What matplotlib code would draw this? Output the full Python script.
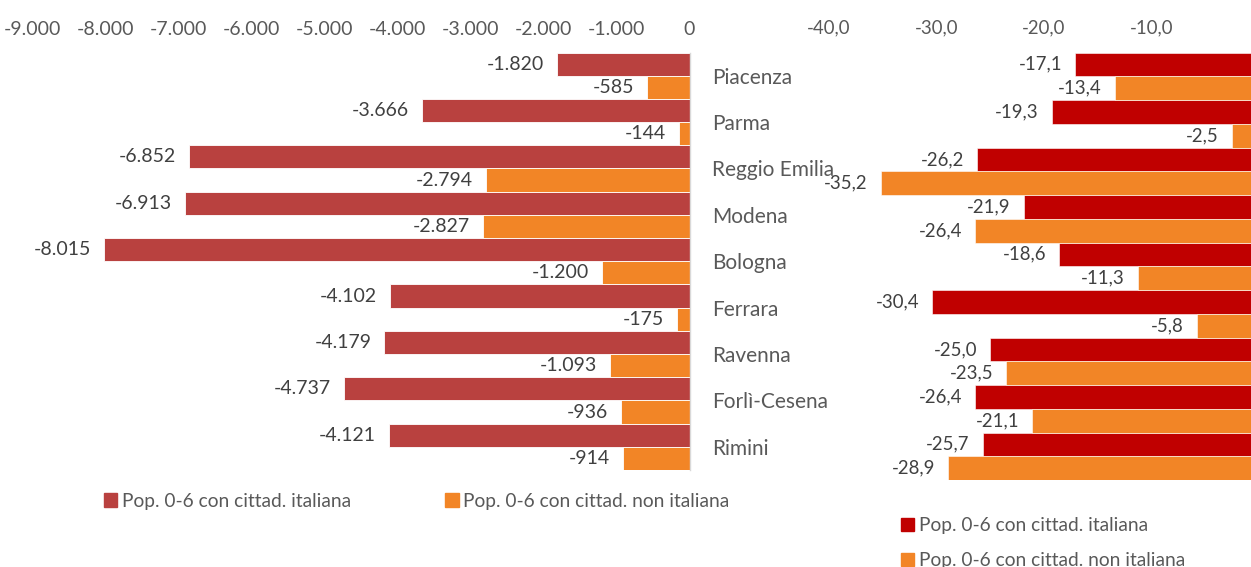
import matplotlib
matplotlib.use("Agg")
import matplotlib.pyplot as plt
from matplotlib import font_manager
from matplotlib.patches import Patch
from matplotlib.ticker import FixedLocator, FuncFormatter

# ---------------- data ----------------
provinces = ["Piacenza", "Parma", "Reggio Emilia", "Modena", "Bologna",
             "Ferrara", "Ravenna", "Forlì-Cesena", "Rimini"]
abs_italiana = [-1820, -3666, -6852, -6913, -8015, -4102, -4179, -4737, -4121]
abs_non_italiana = [-585, -144, -2794, -2827, -1200, -175, -1093, -936, -914]
pct_italiana = [-17.1, -19.3, -26.2, -21.9, -18.6, -30.4, -25.0, -26.4, -25.7]
pct_non_italiana = [-13.4, -2.5, -35.2, -26.4, -11.3, -5.8, -23.5, -21.1, -28.9]
left_ticks = [-9000, -8000, -7000, -6000, -5000, -4000, -3000, -2000, -1000, 0]
right_ticks = [-40, -30, -20, -10]
label_ita = "Pop. 0-6 con cittad. italiana"
label_non = "Pop. 0-6 con cittad. non italiana"

# ---------------- style ----------------
names = {f.name for f in font_manager.fontManager.ttflist}
FONT = "Lato" if "Lato" in names else "DejaVu Sans"
plt.rcParams["font.family"] = [FONT, "DejaVu Sans"]

RED_L = "#B9413F"
RED_R = "#C00000"
ORANGE = "#F28526"
GREY = "#595959"
DARK = "#404040"

FS_L = 14       # left panel numbers
FS_R = 13.4     # right panel numbers
FS_CAT = 15     # category labels
FS_LEG = 13.8   # legends

W, H = 1251, 567
fig = plt.figure(figsize=(W / 100, H / 100), dpi=100)


def it_int(v, pos=None):
    s = f"{abs(int(round(v))):,}".replace(",", ".")
    return ("-" if v < 0 else "") + s


def it_dec(v, pos=None):
    return f"{v:.1f}".replace(".", ",")


def px_axes(x0, x1, ytop, ybot):
    return fig.add_axes([x0 / W, (H - ybot) / H, (x1 - x0) / W, (ybot - ytop) / H])


n = len(provinces)
ypos = list(range(n))

# ---------------- left panel ----------------
axL = px_axes(32.5, 689.5, 52.5, 470)
axL.barh([y - 0.25 for y in ypos], abs_italiana, height=0.5, color=RED_L,
         edgecolor="white", linewidth=0.6)
axL.barh([y + 0.25 for y in ypos], abs_non_italiana, height=0.5, color=ORANGE,
         edgecolor="white", linewidth=0.6)
axL.set_xlim(-9000, 0)
axL.set_ylim(n - 0.5, -0.5)
axL.xaxis.tick_top()
axL.xaxis.set_major_locator(FixedLocator(left_ticks))
axL.xaxis.set_major_formatter(FuncFormatter(it_int))
axL.tick_params(axis="x", length=0, pad=10.5, labelsize=FS_L, labelcolor=GREY)
axL.yaxis.tick_right()
axL.set_yticks(ypos)
axL.set_yticklabels(provinces)
axL.tick_params(axis="y", length=0, pad=16, labelsize=FS_CAT, labelcolor=GREY)
for lab in axL.get_yticklabels():
    lab.set_zorder(5)
for s in ["top", "left", "bottom"]:
    axL.spines[s].set_visible(False)
axL.spines["right"].set_color("#D9D9D9")
axL.spines["right"].set_linewidth(1.0)

for y, v in zip(ypos, abs_italiana):
    axL.annotate(it_int(v), (v, y - 0.25), xytext=(-13, 0), textcoords="offset pixels",
                 ha="right", va="center", fontsize=FS_L, color=DARK)
for y, v in zip(ypos, abs_non_italiana):
    axL.annotate(it_int(v), (v, y + 0.25), xytext=(-13, 0), textcoords="offset pixels",
                 ha="right", va="center", fontsize=FS_L, color=DARK)

legL = axL.legend(handles=[Patch(color=RED_L, label=label_ita),
                           Patch(color=ORANGE, label=label_non)],
                  ncol=2, frameon=False, loc="center left",
                  bbox_to_anchor=((104 - 32.5) / 657, -(501 - 470) / 417.5),
                  fontsize=FS_LEG, handlelength=0.7, handleheight=0.7,
                  handletextpad=0.25, columnspacing=4.9, borderaxespad=0, borderpad=0)
for t in legL.get_texts():
    t.set_color(GREY)

# ---------------- right panel ----------------
axR = px_axes(829, 1259, 52.5, 480)
axR.patch.set_alpha(0)
axR.barh([y - 0.25 for y in ypos], pct_italiana, height=0.5, color=RED_R,
         edgecolor="white", linewidth=0.4)
axR.barh([y + 0.25 for y in ypos], pct_non_italiana, height=0.5, color=ORANGE,
         edgecolor="white", linewidth=0.4)
axR.set_xlim(-40, 0)
axR.set_ylim(n - 0.5, -0.5)
axR.xaxis.tick_top()
axR.xaxis.set_major_locator(FixedLocator(right_ticks))
axR.xaxis.set_major_formatter(FuncFormatter(it_dec))
axR.tick_params(axis="x", length=0, pad=11.5, labelsize=FS_R, labelcolor=GREY)
axR.set_yticks([])
for s in axR.spines.values():
    s.set_visible(False)

for y, v in zip(ypos, pct_italiana):
    axR.annotate(it_dec(v), (v, y - 0.25), xytext=(-13, 0), textcoords="offset pixels",
                 ha="right", va="center", fontsize=FS_R, color=DARK,
                 annotation_clip=False)
for y, v in zip(ypos, pct_non_italiana):
    axR.annotate(it_dec(v), (v, y + 0.25), xytext=(-13, 0), textcoords="offset pixels",
                 ha="right", va="center", fontsize=FS_R, color=DARK,
                 annotation_clip=False)

legR = fig.legend(handles=[Patch(color=RED_R, label=label_ita),
                           Patch(color=ORANGE, label=label_non)],
                  ncol=1, frameon=False, loc="upper left",
                  bbox_to_anchor=(901 / W, (H - 517) / H),
                  fontsize=FS_LEG, handlelength=0.7, handleheight=0.7,
                  handletextpad=0.25, labelspacing=0.95, borderaxespad=0, borderpad=0)
for t in legR.get_texts():
    t.set_color(GREY)

fig.savefig("out.png", dpi=100)
